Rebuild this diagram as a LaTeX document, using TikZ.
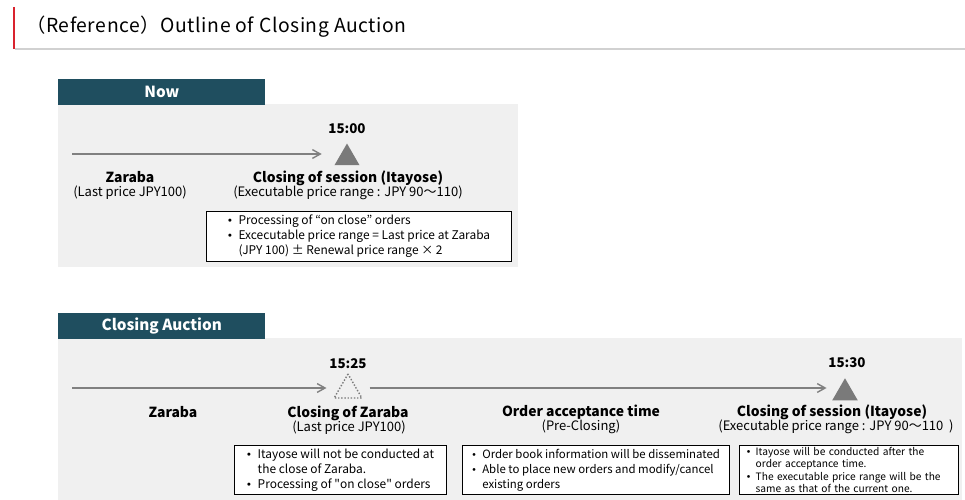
\documentclass[tikz,border=0pt]{standalone}
\usepackage{fontspec}
\setmainfont{Noto Sans CJK JP}
\newfontfamily\titlefont{Noto Sans CJK JP}[LetterSpace=3]
\usetikzlibrary{positioning,shapes.geometric,arrows.meta}
\definecolor{hdrblue}{HTML}{1F4E5F}
\definecolor{panelgray}{HTML}{F0F0F0}
\definecolor{linegray}{HTML}{808080}
\definecolor{trigray}{HTML}{7A7A7A}
\definecolor{barred}{HTML}{D9232E}
\newcommand{\bul}{\makebox[0.9em][l]{\raisebox{0.35ex}{\scalebox{0.6}{$\bullet$}}}}
\newcommand{\ind}{\hspace*{0.9em}}

\begin{document}
\begin{tikzpicture}[x=0.02cm,y=-0.02cm,
  hdr/.style={fill=hdrblue,text=white,font=\fontsize{8.7}{10}\selectfont\bfseries,
    minimum width=4.14cm,minimum height=0.52cm,anchor=south west,inner sep=0pt},
  tl/.style={draw=linegray,line width=0.8pt,-{Straight Barb[length=4.5pt,width=5pt]}},
  tri/.style={regular polygon,regular polygon sides=3,inner sep=0pt},
  timelbl/.style={font=\fontsize{7.6}{9}\selectfont\bfseries,anchor=base},
  stage/.style={font=\fontsize{7.9}{9}\selectfont\bfseries,anchor=base},
  sub/.style={font=\fontsize{7.4}{9}\selectfont,anchor=base},
  note/.style={draw=black,fill=white,line width=0.6pt,anchor=north west,align=left,
    font=\fontsize{6.8}{8.5}\selectfont,inner sep=2pt,minimum height=0.96cm}]
% Here is the heading of the page
   \useasboundingbox (0,0) rectangle (965,500);
   \draw[barred,line width=1.2pt] (14,7) -- (14,49);
   \draw[black!18,line width=0.6pt] (15,49) -- (965,49);
   \node[anchor=west,font=\titlefont\fontsize{11}{13}\selectfont] (pagetitle) at (20,27) {（Reference）Outline of Closing Auction};
% Here is the panel for the current session
   \fill[panelgray] (58,104) rectangle (518,267);
   \node[hdr] (nowhdr) at (58,105) {Now};
   \node[tri,fill=trigray,minimum size=0.58cm] (t1500) at (347,158) {};
   \node[timelbl] (h1500) at (347,134) {15:00};
   \coordinate (n0) at (72,154);
   \draw[tl,shorten >=0.33cm] (n0) -- (n0 -| t1500.west);
   \node[stage] (zar) at (130,183) {Zaraba};
   \node[sub] (zarp) at (130,197) {(Last price JPY100)};
   \node[stage] (close) at (348,183) {Closing of session (Itayose)};
   \node[sub] (closep) at (348,197) {(Executable price range : JPY 90～110)};
   \node[note,minimum width=6.1cm] (nownote) at (206,211)
     {\bul Processing of “on close” orders\\
      \bul Excecutable price range = Last price at Zaraba\\
      \ind(JPY 100) ± Renewal price range × 2};
% Here is the panel for the closing auction
   \fill[panelgray] (58,338) rectangle (962,500);
   \node[hdr] (cahdr) at (58,339) {Closing Auction};
   \node[tri,draw=trigray,densely dotted,line width=0.8pt,minimum size=0.64cm] (t1525) at (348,390) {};
   \node[tri,fill=trigray,minimum size=0.59cm] (t1530) at (845,393) {};
   \node[timelbl] (h1525) at (348,369) {15:25};
   \node[timelbl] (h1530) at (847,368) {15:30};
   \coordinate (c0) at (72,388);
   \draw[tl,shorten >=0.23cm] (c0) -- (c0 -| t1525.west);
   \draw[tl,shorten <=0.23cm,shorten >=0.19cm] (c0 -| t1525.east) -- (c0 -| t1530.west);
   \node[stage] (zar2) at (173,418) {Zaraba};
   \node[stage] (czar) at (348,418) {Closing of Zaraba};
   \node[sub] (czarp) at (349,432) {(Last price JPY100)};
   \node[stage] (oat) at (581,417) {Order acceptance time};
   \node[sub] (oatp) at (581,431) {(Pre-Closing)};
   \node[stage] (close2) at (832,417) {Closing of session (Itayose)};
   \node[sub] (close2p) at (836,431) {(Executable price range : JPY 90～110\ \ )};
   \node[note,minimum width=4.24cm] (czarnote) at (234,445)
     {\bul Itayose will not be conducted at\\
      \ind the close of Zaraba.\\
      \bul Processing of \textquotedbl on close\textquotedbl{} orders};
   \node[note,minimum width=5.34cm,font=\fontsize{6.5}{8.5}\selectfont] (oatnote) at (462,445)
     {\bul Order book information will be disseminated\\
      \bul Able to place new orders and modify/cancel\\
      \ind existing orders};
   \node[note,text width=4.1cm,font=\fontsize{5.8}{7}\selectfont,inner xsep=4pt,inner ysep=1pt] (closenote) at (739,445)
     {\bul Itayose will be conducted after the\\
      \ind order acceptance time.\\
      \bul The executable price range will be the\\
      \ind same as that of the current one.};
\end{tikzpicture}
\end{document}
